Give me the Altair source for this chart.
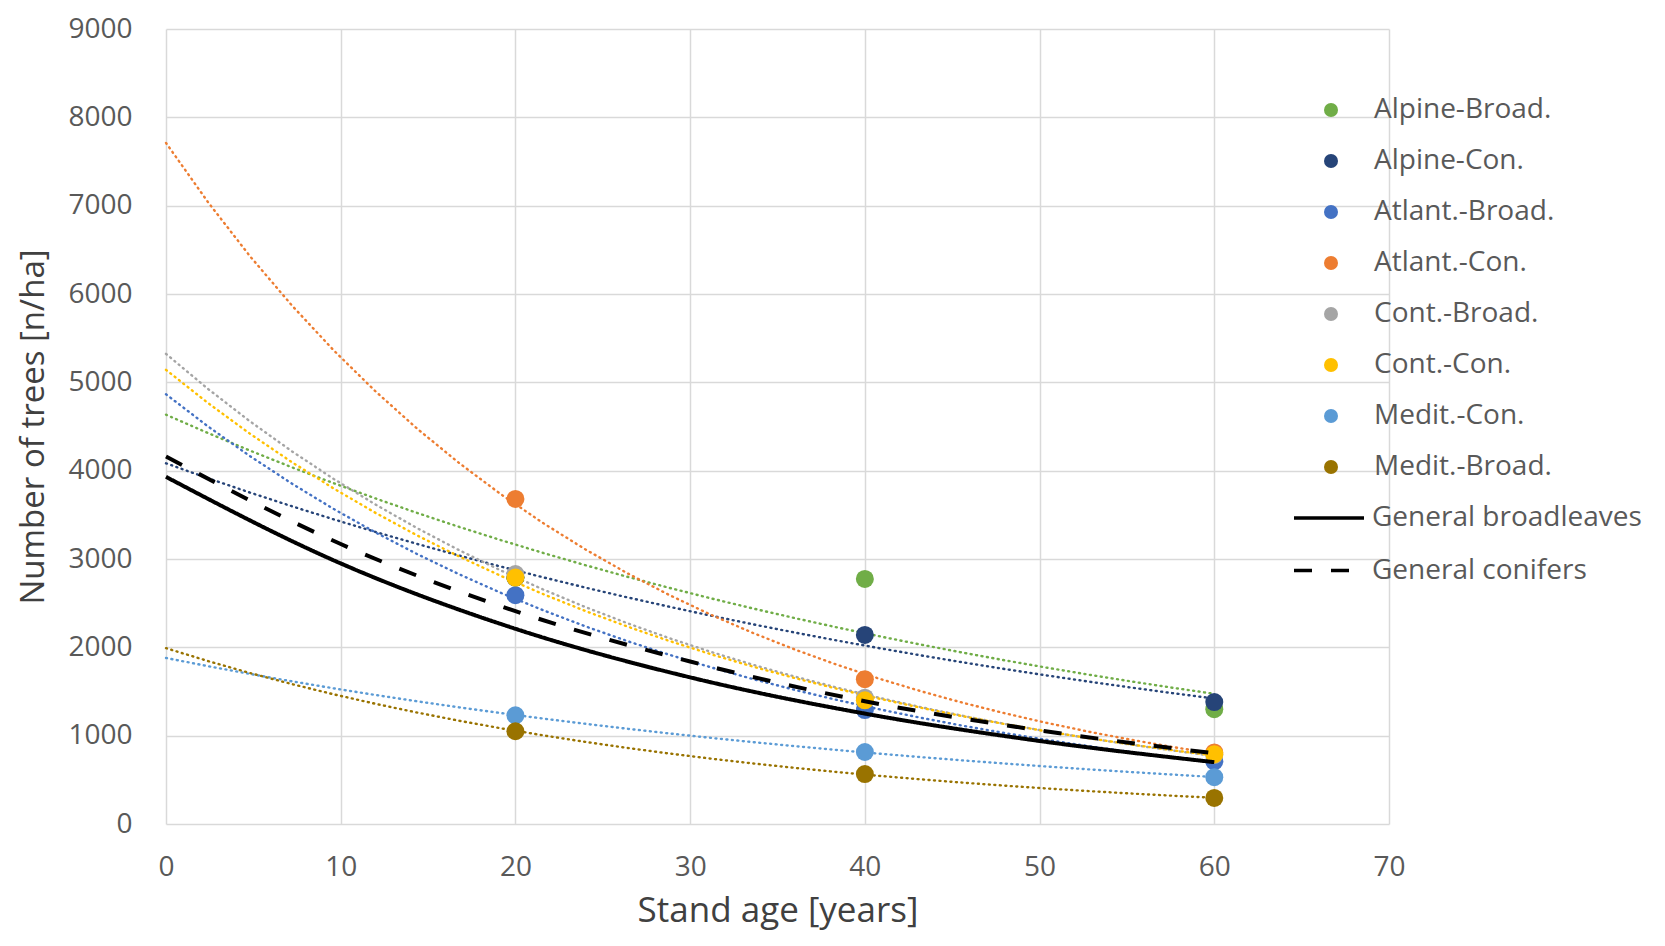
import altair as alt
import pandas as pd

# ---------------- data ----------------
series = ["Alpine-Broad.", "Alpine-Con.", "Atlant.-Broad.", "Atlant.-Con.",
          "Cont.-Broad.", "Cont.-Con.", "Medit.-Con.", "Medit.-Broad."]
colors = ["#70AD47", "#264478", "#4472C4", "#ED7D31",
          "#A5A5A5", "#FFC000", "#5B9BD5", "#997300"]
ages = [20, 40, 60]

alpine_broad = [2790, 2775, 1300]
alpine_con = [2790, 2140, 1380]
atlant_broad = [2590, 1290, 710]
atlant_con = [3680, 1640, 810]
cont_broad = [2830, 1430, 780]
cont_con = [2790, 1400, 790]
medit_con = [1230, 815, 530]
medit_broad = [1050, 565, 295]

general_kinds = ["General broadleaves", "General conifers"]
general_ages = [0, 10, 20, 30, 40, 50, 60]
general_broad = [3930, 2950, 2210, 1660, 1250, 940, 700]
general_con = [4160, 3170, 2410, 1840, 1390, 1060, 800]

x_ticks = [0, 10, 20, 30, 40, 50, 60, 70]
y_ticks = [0, 1000, 2000, 3000, 4000, 5000, 6000, 7000, 8000, 9000]

# ---------------- tables ----------------
rows = []
for name, vals in zip(series, [alpine_broad, alpine_con, atlant_broad, atlant_con,
                               cont_broad, cont_con, medit_con, medit_broad]):
    for a, v in zip(ages, vals):
        rows.append({"series": name, "age": a, "trees": v})
pts = pd.DataFrame(rows)

grows = []
for kind, vals in zip(general_kinds, [general_broad, general_con]):
    for a, v in zip(general_ages, vals):
        grows.append({"kind": kind, "age": a, "trees": v})
gen = pd.DataFrame(grows)

trend_domain = [s + " trend" for s in series]

FONT = "Open Sans"
LABEL_COLOR = "#595959"

x_axis = alt.Axis(values=x_ticks, title="Stand age [years]", grid=True, ticks=False,
                  domain=False, labelFontSize=28, labelFont=FONT, labelColor=LABEL_COLOR,
                  labelPadding=29, labelFlush=False, titleFontSize=35, titleFont=FONT,
                  titleColor="#404040", titleFontWeight="normal",
                  titleBaseline="alphabetic", titleY=97,
                  gridColor="#d9d9d9", gridWidth=1.5)
y_axis = alt.Axis(values=y_ticks, format="d", title="Number of trees [n/ha]", grid=True,
                  ticks=False, domain=False, labelFontSize=28, labelFont=FONT,
                  labelColor=LABEL_COLOR, labelPadding=34, labelFlush=False,
                  titleFontSize=33, titleFont=FONT, titleColor="#404040",
                  titleFontWeight="normal", titleBaseline="alphabetic", titleX=-123,
                  gridColor="#d9d9d9", gridWidth=1.5)

x_scale = alt.Scale(domain=[0, 70], nice=False, zero=True)
y_scale = alt.Scale(domain=[0, 9000], nice=False)
x_enc = alt.X("age:Q", scale=x_scale, axis=x_axis)
y_enc = alt.Y("trees:Q", scale=y_scale, axis=y_axis)

# Exponential trendlines: least squares on log(y) (as a spreadsheet trendline does),
# fitted by Vega-Lite's own regression transform over 0..60 years, then back-transformed.
trend = (
    alt.Chart(pts)
    .transform_calculate(trend_series="datum.series + ' trend'", ly="log(datum.trees)")
    .transform_regression("age", "ly", groupby=["trend_series"], method="poly", order=1,
                          extent=[0, 60])
    .transform_calculate(ty="exp(datum.ly)")
    .mark_line(strokeWidth=2.4, strokeDash=[1, 4.5], strokeCap="round")
    .encode(
        x=alt.X("age:Q", scale=x_scale, axis=x_axis),
        y=alt.Y("ty:Q", scale=y_scale, axis=y_axis),
        stroke=alt.Stroke("trend_series:N", scale=alt.Scale(domain=trend_domain, range=colors),
                          legend=None),
        detail="trend_series:N",
    )
)

points = alt.Chart(pts).mark_circle(size=324, opacity=1).encode(
    x=x_enc,
    y=y_enc,
    color=alt.Color(
        "series:N",
        scale=alt.Scale(domain=series, range=colors),
        legend=alt.Legend(title=None, orient="none", legendX=1151, legendY=67,
                          symbolType="circle", symbolSize=196, symbolStrokeWidth=0,
                          labelFontSize=28, labelFont=FONT, labelColor=LABEL_COLOR,
                          labelOffset=29, rowPadding=23, padding=0, labelLimit=400),
    ),
)

general = alt.Chart(gen).mark_line(color="black", strokeWidth=4, interpolate="monotone").encode(
    x=x_enc,
    y=y_enc,
    strokeDash=alt.StrokeDash(
        "kind:N",
        scale=alt.Scale(domain=general_kinds, range=[[1, 0], [18, 19]]),
        legend=alt.Legend(title=None, orient="none", legendX=1126, legendY=452,
                          symbolType="stroke", symbolSize=4900, symbolStrokeWidth=3.5,
                          symbolStrokeColor="black", labelFontSize=28, labelFont=FONT,
                          labelColor=LABEL_COLOR, labelOffset=6, rowPadding=1.5,
                          padding=0, labelLimit=400),
    ),
)

chart = alt.layer(trend, points, general).properties(
    width=1223,
    height=795,
    autosize=alt.AutoSizeParams(type="none"),
    padding={"left": 158, "top": 21, "right": 262, "bottom": 110},
    background="white",
).configure_view(stroke=None)

chart.save("out.html", embed_options={"renderer": "svg", "actions": False})
